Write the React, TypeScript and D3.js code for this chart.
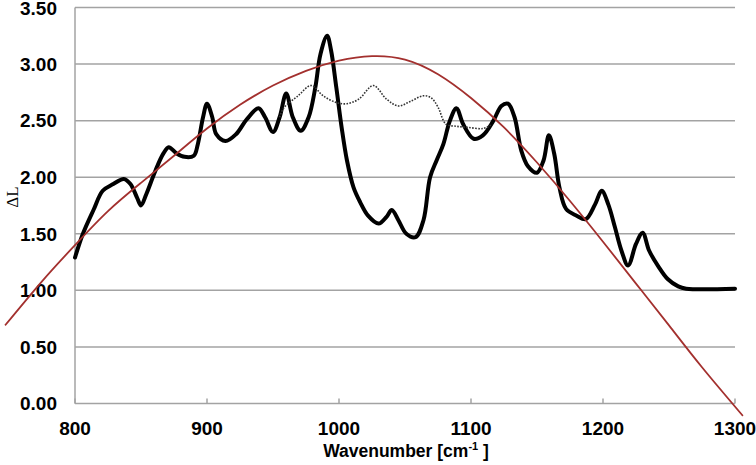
import React from "react";
import * as d3 from "d3";

const xTicks = [800, 900, 1000, 1100, 1200, 1300];
const yTicks = [0, 0.5, 1.0, 1.5, 2.0, 2.5, 3.0, 3.5];

// Measured spectrum (thick black line)
const measuredW = [800, 806, 814, 821, 829, 837, 842, 847, 850, 854, 861, 867, 871, 877, 883, 890, 893, 897, 900, 904, 907, 914, 922, 930, 939, 944, 950, 955, 960, 965, 971, 977, 982, 986, 991, 994, 998, 1002, 1006, 1011, 1016, 1022, 1030, 1036, 1040, 1045, 1051, 1058, 1064, 1069, 1074, 1079, 1084, 1089, 1094, 1102, 1109, 1117, 1123, 1128, 1133, 1138, 1143, 1150, 1155, 1159, 1163, 1167, 1172, 1180, 1187, 1194, 1199, 1204, 1209, 1214, 1219, 1225, 1230, 1235, 1242, 1249, 1257, 1263, 1300];
const measuredL = [1.29, 1.5, 1.71, 1.88, 1.94, 1.985, 1.94, 1.82, 1.75, 1.85, 2.06, 2.21, 2.265, 2.21, 2.18, 2.19, 2.29, 2.53, 2.65, 2.53, 2.38, 2.32, 2.38, 2.51, 2.61, 2.53, 2.4, 2.53, 2.74, 2.53, 2.41, 2.53, 2.79, 3.09, 3.25, 3.12, 2.79, 2.44, 2.15, 1.91, 1.78, 1.66, 1.59, 1.65, 1.71, 1.62, 1.5, 1.47, 1.62, 2.0, 2.15, 2.29, 2.5, 2.61, 2.47, 2.34, 2.37, 2.5, 2.63, 2.65, 2.53, 2.24, 2.1, 2.04, 2.15, 2.37, 2.21, 1.91, 1.72, 1.66, 1.63, 1.76, 1.88, 1.76, 1.56, 1.35, 1.22, 1.41, 1.51, 1.35, 1.21, 1.1, 1.035, 1.015, 1.015];

// Alternative segment (dotted line)
const dottedW = [955, 958, 969, 979, 988, 998, 1006, 1015, 1026, 1036, 1045, 1054, 1064, 1070, 1075, 1081, 1089, 1098, 1109, 1115];
const dottedL = [2.53, 2.61, 2.72, 2.81, 2.72, 2.66, 2.65, 2.69, 2.81, 2.69, 2.63, 2.67, 2.72, 2.7, 2.62, 2.47, 2.45, 2.44, 2.43, 2.46];

// Fitted envelope (red curve)
const fitW = [747, 775, 800, 825, 850, 875, 900, 925, 950, 975, 1000, 1025, 1050, 1075, 1100, 1125, 1150, 1175, 1200, 1225, 1250, 1275, 1306];
const fitL = [0.69, 1.08, 1.4, 1.7, 1.95, 2.19, 2.43, 2.64, 2.81, 2.94, 3.03, 3.07, 3.04, 2.91, 2.7, 2.44, 2.13, 1.79, 1.43, 1.06, 0.69, 0.32, -0.11];

const W = 756;
const H = 465;
const left = 75;
const right = 735;
const top = 7.5;
const bottom = 403.5;

export default function App() {
  const x = d3.scaleLinear().domain([800, 1300]).range([left, right]);
  const y = d3.scaleLinear().domain([0, 3.5]).range([bottom, top]);

  const zip = (a: number[], b: number[]) => a.map((v, i) => [v, b[i]] as [number, number]);
  const line = d3
    .line<[number, number]>()
    .x((d) => x(d[0]))
    .y((d) => y(d[1]))
    .curve(d3.curveCatmullRom.alpha(0.5));
  const smooth = d3
    .line<[number, number]>()
    .x((d) => x(d[0]))
    .y((d) => y(d[1]))
    .curve(d3.curveNatural);

  const font = "'Liberation Sans', Arial, sans-serif";
  const grid = "#a3a3a3";

  return (
    <svg width={W} height={H} style={{ position: "absolute", left: 0, top: 0, background: "#fff" }}>
      {yTicks.map((t) => (
        <line key={"g" + t} x1={left} x2={right} y1={y(t)} y2={y(t)} stroke={grid} strokeWidth={1.5} />
      ))}
      <line x1={left} x2={left} y1={top} y2={bottom} stroke={grid} strokeWidth={1.5} />
      {xTicks.map((t) => (
        <line key={"t" + t} x1={x(t)} x2={x(t)} y1={bottom} y2={bottom - 5} stroke={grid} strokeWidth={1.5} />
      ))}
      {yTicks.map((t) => (
        <text key={"yl" + t} x={57} y={y(t)} dy={t === 3.5 ? "0.42em" : "0.36em"} textAnchor="end" fontFamily={font} fontWeight="bold" fontSize={19} fill="#000">
          {t.toFixed(2)}
        </text>
      ))}
      {xTicks.map((t) => (
        <text key={"xl" + t} x={x(t)} y={435} textAnchor="middle" fontFamily={font} fontWeight="bold" fontSize={19} fill="#000">
          {t}
        </text>
      ))}
      <text x={406} y={457} textAnchor="middle" fontFamily={font} fontWeight="bold" fontSize={17.5} fill="#000">
        Wavenumber [cm
        <tspan fontSize={11} dy={-7}>-1</tspan>
        <tspan dy={7}> ]</tspan>
      </text>
      <text transform="translate(18,197) rotate(-90)" textAnchor="middle" fontFamily="'Liberation Serif', 'Times New Roman', serif" fontSize={17} fill="#000">
        ΔL
      </text>
      <path d={line(zip(measuredW, measuredL)) || ""} fill="none" stroke="#000" strokeWidth={4} strokeLinejoin="round" strokeLinecap="round" />
      <path d={line(zip(dottedW, dottedL)) || ""} fill="none" stroke="#333" strokeWidth={1.6} strokeDasharray="1.6,1.4" />
      <path d={smooth(zip(fitW, fitL)) || ""} fill="none" stroke="#a3302e" strokeWidth={1.8} />
    </svg>
  );
}
